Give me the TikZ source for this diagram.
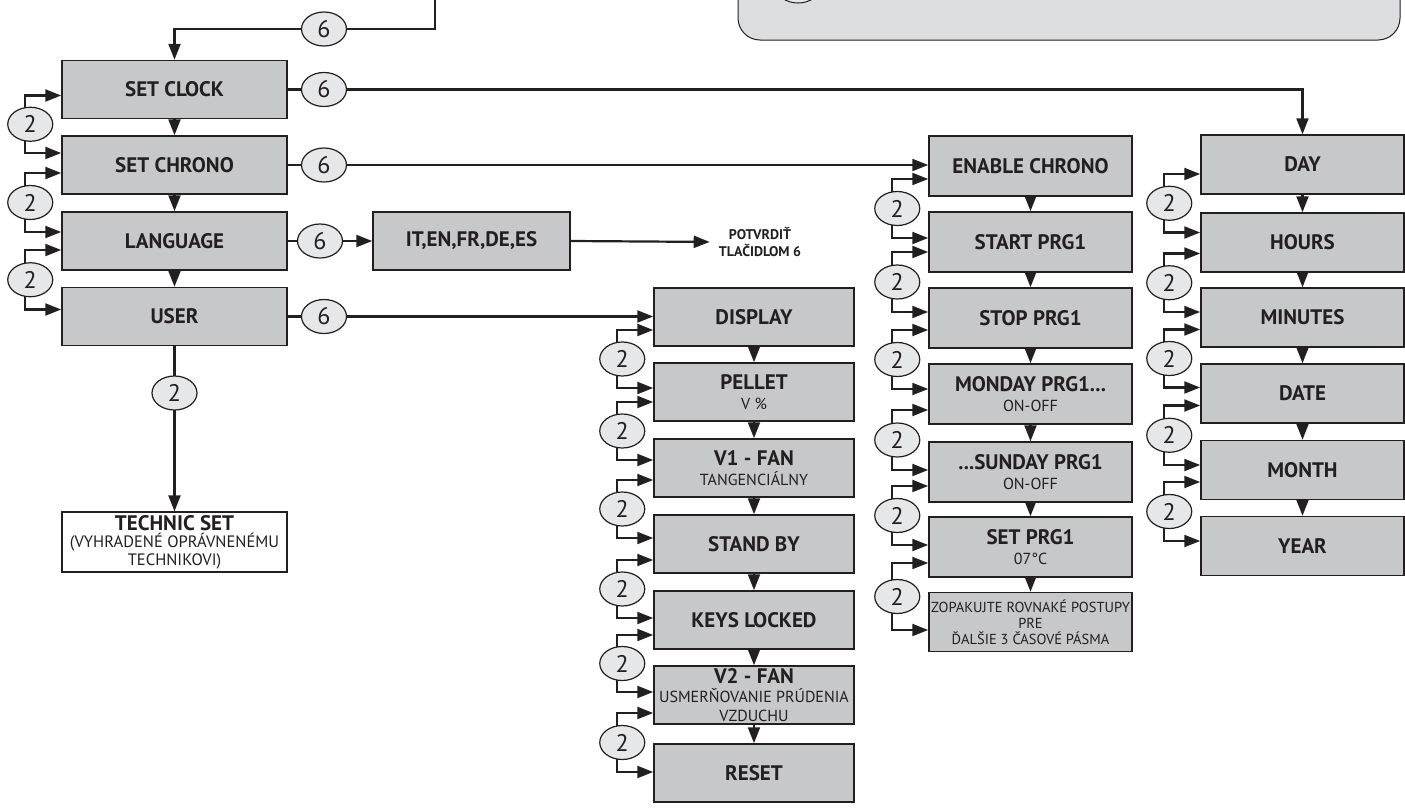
\documentclass[tikz,border=0pt]{standalone}
\usepackage{fontspec}
\setmainfont{PT Sans}
\usetikzlibrary{arrows.meta,calc,backgrounds,shapes.geometric}
\definecolor{ink}{HTML}{231F20}
\definecolor{boxgray}{HTML}{C7C8CA}
\definecolor{ellgray}{HTML}{E6E7E8}
\definecolor{topgray}{HTML}{DCDDDF}
\newcommand\tboxfont{\fontsize{21}{24}\selectfont\bfseries}
\newcommand\subtxt{\fontsize{16}{19}\selectfont}
\newcommand\smalltxt{\fontsize{14.5}{16}\selectfont}
\newcommand\techtxt{\fontsize{16.5}{17.5}\selectfont}
\newcommand\ellfont{\fontsize{24}{26}\selectfont}
\newcommand\potvfont{\fontsize{14}{17}\selectfont\bfseries}
\tikzset{
  mbox/.style={draw=ink, line width=1.5pt, fill=boxgray, inner sep=0pt, align=center, text=ink},
  leftbox/.style={mbox, minimum width=225pt, minimum height=58pt, font=\tboxfont},
  dispbox/.style={mbox, minimum width=200pt, minimum height=58pt, font=\subtxt},
  chbox/.style={mbox, minimum width=203pt, minimum height=60pt, font=\subtxt},
  techbox/.style={draw=ink, line width=1.2pt, fill=white, minimum width=225pt, minimum height=60pt, inner sep=0pt, align=center, font=\techtxt, text=ink},
  twoell/.style={ellipse, draw=ink, line width=1.2pt, fill=ellgray, minimum width=45pt, minimum height=34pt, inner sep=0pt, font=\ellfont, text=ink},
  arr/.style={draw=ink, line width=2.2pt, -{Triangle[length=16pt,width=12pt]}},
  conn/.style={draw=ink, line width=2.2pt},
}
\newcommand\twoloop[5]{%
  \coordinate (#1u) at ($(#2.west)+(0,#4)$);
  \coordinate (#1l) at ($(#3.west)+(0,#5)$);
  \coordinate (#1m) at ($(#1u)!0.5!(#1l)$);
  \coordinate (#1v) at ($(#1m)+(-36,0)$);
  \node[twoell] (#1) at ($(#1m)+(-31,0)$) {2};
  \begin{pgfonlayer}{background}
    \draw[arr] (#1v) |- (#1u);
    \draw[arr] (#1v) |- (#1l);
  \end{pgfonlayer}
}
\begin{document}
\begin{tikzpicture}[x=1pt,y=-1pt]
\useasboundingbox (0,0) rectangle (1405,809);

% top legend box (partly visible)
\begin{pgfonlayer}{background}
  \draw[draw=ink, line width=1pt, fill=topgray, rounded corners=22pt] (738,-60) rectangle (1400,40);
\end{pgfonlayer}
\node[twoell, line width=1pt] (legend) at (798,-14) {};

% left column
\node[leftbox] (clock) at (174.5,89.5) {SET CLOCK};
\node[leftbox] (chrono) at (174.5,165) {SET CHRONO};
\node[leftbox] (lang) at (174.5,241) {LANGUAGE};
\node[leftbox] (user) at (174.5,316.5) {USER};
\node[mbox, minimum width=197pt, minimum height=58pt, font=\tboxfont] (it) at (471.5,241) {IT,EN,FR,DE,ES};
\node[font=\potvfont, align=center, inner sep=0pt, text=ink] (potv) at (760,242) {POTVRDIŤ\\TLAČIDLOM 6};
\node[techbox] (technic) at (174.5,542) {{\tboxfont TECHNIC SET}\\[0pt](VYHRADENÉ OPRÁVNENÉMU\\TECHNIKOVI)};

% display column
\node[dispbox] (display) at (754,317) {\tboxfont DISPLAY};
\node[dispbox] (pellet) at (754,392) {{\tboxfont PELLET}\\[1pt]V \%};
\node[dispbox] (v1) at (754,468) {{\tboxfont V1 - FAN}\\[1pt]TANGENCIÁLNY};
\node[dispbox] (standby) at (754,544) {\tboxfont STAND BY};
\node[dispbox] (keys) at (754,620) {\tboxfont KEYS LOCKED};
\node[dispbox] (v2) at (754,695) {{\tboxfont V2 - FAN}\\USMERŇOVANIE PRÚDENIA\\VZDUCHU};
\node[dispbox] (reset) at (754,773) {\tboxfont RESET};

% chrono column
\node[chbox] (enable) at (1030.5,166) {\tboxfont ENABLE CHRONO};
\node[chbox] (start) at (1030.5,242) {\tboxfont START PRG1};
\node[chbox] (stop) at (1030.5,318) {\tboxfont STOP PRG1};
\node[chbox] (monday) at (1030.5,394) {{\tboxfont MONDAY PRG1...}\\[1pt]ON-OFF};
\node[chbox] (sunday) at (1030.5,472) {{\tboxfont ...SUNDAY PRG1}\\[1pt]ON-OFF};
\node[chbox] (setprg) at (1030.5,547) {{\tboxfont SET PRG1}\\[1pt]07°C};
\node[chbox, minimum height=59pt, font=\smalltxt] (zopak) at (1030.5,622) {ZOPAKUJTE ROVNAKÉ POSTUPY\\PRE\\ĎALŠIE 3 ČASOVÉ PÁSMA};

% day column
\node[chbox, minimum height=59pt] (day) at (1302.5,164.5) {\tboxfont DAY};
\node[chbox, minimum height=59pt] (hours) at (1302.5,242.5) {\tboxfont HOURS};
\node[chbox, minimum height=59pt] (minutes) at (1302.5,317.5) {\tboxfont MINUTES};
\node[chbox, minimum height=59pt] (date) at (1302.5,393.5) {\tboxfont DATE};
\node[chbox, minimum height=59pt] (month) at (1302.5,470) {\tboxfont MONTH};
\node[chbox, minimum height=59pt] (year) at (1302.5,546) {\tboxfont YEAR};

% "6" ellipses
\node[twoell] (e6a) at (324,29) {6};
\node[twoell] (e6b) at (324,89.5) {6};
\node[twoell] (e6c) at (324,165) {6};
\node[twoell] (e6d) at (320,241) {6};
\node[twoell] (e6e) at (324,316.5) {6};
\node[twoell] (u2) at (174.5,393) {2};

\coordinate (topin) at (435,-5);
\coordinate (topbend) at (435,29);

\begin{pgfonlayer}{background}
  \draw[arr] (topin) -- (topbend) -| (clock.north);
  \draw[arr] (clock.east) -| (day.north);
  \draw[arr] (chrono.east) -- (chrono.east -| enable.west);
  \draw[conn] (lang.east) -- (e6d);
  \draw[arr] (e6d.east) -- (it.west);
  \draw[arr, shorten >=9pt] (it.east) -- (potv.west);
  \draw[arr] (user.east) -- (user.east -| display.west);
  \draw[arr] (user.south) -- (technic.north);
  % down arrows
  \draw[arr] (clock.south) -- (chrono.north);
  \draw[arr] (chrono.south) -- (lang.north);
  \draw[arr] (lang.south) -- (user.north);
  \draw[arr] (display.south) -- (pellet.north);
  \draw[arr] (pellet.south) -- (v1.north);
  \draw[arr] (v1.south) -- (standby.north);
  \draw[arr] (standby.south) -- (keys.north);
  \draw[arr] (keys.south) -- (v2.north);
  \draw[arr] (v2.south) -- (reset.north);
  \draw[arr] (enable.south) -- (start.north);
  \draw[arr] (start.south) -- (stop.north);
  \draw[arr] (stop.south) -- (monday.north);
  \draw[arr] (monday.south) -- (sunday.north);
  \draw[arr] (sunday.south) -- (setprg.north);
  \draw[arr] (setprg.south) -- (zopak.north);
  \draw[arr] (day.south) -- (hours.north);
  \draw[arr] (hours.south) -- (minutes.north);
  \draw[arr] (minutes.south) -- (date.north);
  \draw[arr] (date.south) -- (month.north);
  \draw[arr] (month.south) -- (year.north);
\end{pgfonlayer}

% "2" loops
\twoloop{l1}{clock}{chrono}{6}{-12}
\twoloop{l2}{chrono}{lang}{8}{-9}
\twoloop{l3}{lang}{user}{9}{-7}

\twoloop{d1}{display}{pellet}{13}{-4}
\twoloop{d2}{pellet}{v1}{10}{-8}
\twoloop{d3}{v1}{standby}{12}{-6}
\twoloop{d4}{standby}{keys}{16}{-2}
\twoloop{d5}{keys}{v2}{15}{-3}
\twoloop{d6}{v2}{reset}{18}{-1}

\twoloop{c1}{enable}{start}{13}{-4}
\twoloop{c2}{start}{stop}{10}{-6}
\twoloop{c3}{stop}{monday}{12}{-5}
\twoloop{c4}{monday}{sunday}{16}{-2}
\twoloop{c5}{sunday}{setprg}{14}{-2}
\twoloop{c6}{setprg}{zopak}{16}{8}

\twoloop{y1}{day}{hours}{9.5}{-10}
\twoloop{y2}{hours}{minutes}{11}{-5.5}
\twoloop{y3}{minutes}{date}{12}{-6}
\twoloop{y4}{date}{month}{12}{-5}
\twoloop{y5}{month}{year}{12}{-5}
\end{tikzpicture}
\end{document}
